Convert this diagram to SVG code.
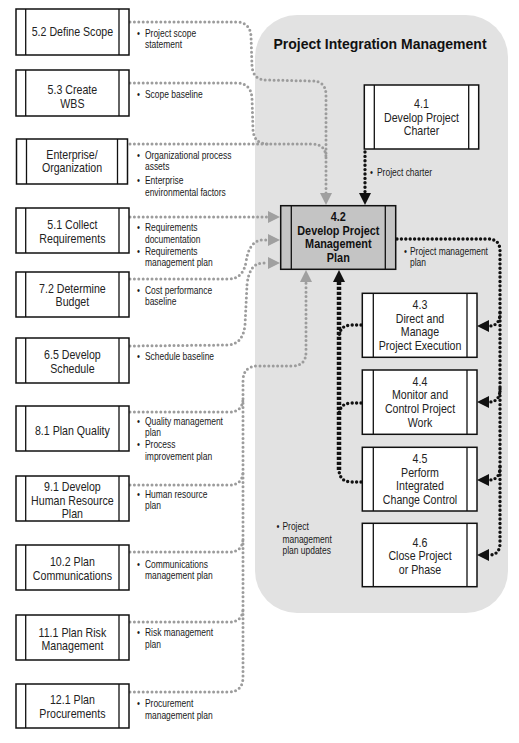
<svg xmlns="http://www.w3.org/2000/svg" width="519" height="743" viewBox="0 0 519 743">
<defs>
<style>
.box{fill:#fff;stroke:#111;stroke-width:1.5}
.in{stroke:#111;stroke-width:1.3}
.nt{font-family:"Liberation Sans",Arial,sans-serif;font-size:12.5px;fill:#222;text-anchor:middle}
.bt{font-family:"Liberation Sans",Arial,sans-serif;font-size:12.5px;font-weight:bold;fill:#111;text-anchor:middle}
.lb{font-family:"Liberation Sans",Arial,sans-serif;font-size:10.2px;fill:#1a1a1a}
.g{fill:none;stroke:#9c9c9c;stroke-width:3;stroke-dasharray:0 4.4;stroke-linecap:round}
.k{fill:none;stroke:#111;stroke-width:3.4;stroke-dasharray:0 4.4;stroke-linecap:round}
.kh{fill:none;stroke:#111;stroke-width:4.5;stroke-dasharray:3.2 1.8}
</style>
<marker id="ag" viewBox="0 0 12 12" markerWidth="12" markerHeight="12" markerUnits="userSpaceOnUse" refX="0" refY="6" orient="auto"><path d="M0,0 L12,6 L0,12 z" fill="#a0a0a0"/></marker>
<marker id="ak" viewBox="0 0 12 12" markerWidth="12" markerHeight="12" markerUnits="userSpaceOnUse" refX="0" refY="6" orient="auto"><path d="M0,0 L12,6 L0,12 z" fill="#111"/></marker>
</defs>
<rect width="519" height="743" fill="#fff"/>
<g id="panel">
<rect x="255" y="15" width="253" height="598" rx="42" ry="42" fill="#e2e2e2"/>
<text x="380" y="49" font-family="Liberation Sans,Arial,sans-serif" font-size="14px" font-weight="bold" fill="#111" text-anchor="middle">Project Integration Management</text>
</g>
<g id="connectors">
<path class="g" d="M130,22 L236,22 Q250,22 251,36 L252,66 Q253,80 267,80 L312,81 Q326,81 326,95 L326,193" marker-end="url(#ag)"/>
<path class="g" d="M130,83 L236,83 Q251,83 252,98 L253,130 Q254,144 268,144"/>
<path class="g" d="M130,144 L312,144 Q326,144 326,158"/>
<path class="g" d="M130,217 L268,217" marker-end="url(#ag)"/>
<path class="g" d="M130,279 L228,279 Q243,279 246,262 Q249,241 262,240 L268,240" marker-end="url(#ag)"/>
<path class="g" d="M130,346 L228,345 Q243,344 245,325 L247,285 Q249,264 262,263 L268,263" marker-end="url(#ag)"/>
<path class="g" d="M130,692 L228,692 Q243,692 243,677 L243,381 Q243,366 258,366 L292,366 Q306,366 306,352 L306,282" marker-end="url(#ag)"/>
<path class="g" d="M130,412 L229,412 Q243,412 243,398"/>
<path class="g" d="M130,485 L229,485 Q243,485 243,471"/>
<path class="g" d="M130,552 L229,552 Q243,552 243,538"/>
<path class="g" d="M130,622 L229,622 Q243,622 243,608"/>
<path class="k" d="M365,152 L365,193" marker-end="url(#ak)"/>
<path class="k" d="M397,239 L488,239 Q500,239 500,251 L500,543 Q500,555 489,555" marker-end="url(#ak)"/>
<path class="k" d="M500,313 Q500,326 489,326" marker-end="url(#ak)"/>
<path class="k" d="M500,389 Q500,402 489,402" marker-end="url(#ak)"/>
<path class="k" d="M500,467 Q500,480 489,480" marker-end="url(#ak)"/>
<path class="k" d="M361,482 L352,482 Q339,482 339,469"/>
<path class="k" d="M361,325 L352,325 Q339,325 339,338"/>
<path class="k" d="M361,403 L352,403 Q339,403 339,416"/>
<path class="kh" d="M339,470 L339,282" marker-end="url(#ak)"/>
</g>
<g id="labels">
<g transform="translate(137 0) scale(.83 1)">
<text class="lb"><tspan x="0" y="36.7">•</tspan><tspan x="9.6" y="36.7">Project scope</tspan><tspan x="9.6" y="48.5">statement</tspan></text>
<text class="lb"><tspan x="0" y="97.7">•</tspan><tspan x="9.6" y="97.7">Scope baseline</tspan></text>
<text class="lb"><tspan x="0" y="158.7">•</tspan><tspan x="9.6" y="158.7">Organizational process</tspan><tspan x="9.6" y="170">assets</tspan><tspan x="0" y="183.7">•</tspan><tspan x="9.6" y="183.7">Enterprise</tspan><tspan x="9.6" y="195.7">environmental factors</tspan></text>
<text class="lb"><tspan x="0" y="231.4">•</tspan><tspan x="9.6" y="231.4">Requirements</tspan><tspan x="9.6" y="242.9">documentation</tspan><tspan x="0" y="255.4">•</tspan><tspan x="9.6" y="255.4">Requirements</tspan><tspan x="9.6" y="266.5">management plan</tspan></text>
<text class="lb"><tspan x="0" y="293.7">•</tspan><tspan x="9.6" y="293.7">Cost performance</tspan><tspan x="9.6" y="305">baseline</tspan></text>
<text class="lb"><tspan x="0" y="360.4">•</tspan><tspan x="9.6" y="360.4">Schedule baseline</tspan></text>
<text class="lb"><tspan x="0" y="425.4">•</tspan><tspan x="9.6" y="425.4">Quality management</tspan><tspan x="9.6" y="436.5">plan</tspan><tspan x="0" y="447.9">•</tspan><tspan x="9.6" y="447.9">Process</tspan><tspan x="9.6" y="459.7">improvement plan</tspan></text>
<text class="lb"><tspan x="0" y="497.7">•</tspan><tspan x="9.6" y="497.7">Human resource</tspan><tspan x="9.6" y="509.4">plan</tspan></text>
<text class="lb"><tspan x="0" y="567.7">•</tspan><tspan x="9.6" y="567.7">Communications</tspan><tspan x="9.6" y="578.9">management plan</tspan></text>
<text class="lb"><tspan x="0" y="636.5">•</tspan><tspan x="9.6" y="636.5">Risk management</tspan><tspan x="9.6" y="648">plan</tspan></text>
<text class="lb"><tspan x="0" y="707.5">•</tspan><tspan x="9.6" y="707.5">Procurement</tspan><tspan x="9.6" y="718.8">management plan</tspan></text>
</g>
<g transform="translate(370 0) scale(.83 1)"><text class="lb"><tspan x="0" y="176.4">•</tspan><tspan x="8.4" y="176.4">Project charter</tspan></text></g>
<g transform="translate(404 0) scale(.83 1)"><text class="lb"><tspan x="0" y="254.7">•</tspan><tspan x="7.2" y="254.7">Project management</tspan><tspan x="7.2" y="265.8">plan</tspan></text></g>
<g transform="translate(276.5 0) scale(.83 1)"><text class="lb"><tspan x="0" y="530.4">•</tspan><tspan x="7.2" y="530.4">Project</tspan><tspan x="7.2" y="542.7">management</tspan><tspan x="7.2" y="554.4">plan updates</tspan></text></g>
</g>
<g id="n52"><rect class="box" x="16" y="9" width="113" height="46"/><path class="in" d="M25.7,9V55M119,9V55"/><g transform="translate(72.4 0) scale(.85 1)"><text class="nt" x="0" y="36.5">5.2 Define Scope</text></g></g>
<g id="n53"><rect class="box" x="16" y="70" width="113" height="46"/><path class="in" d="M25.7,70V116M119,70V116"/><g transform="translate(72.4 0) scale(.85 1)"><text class="nt" x="0" y="94.5">5.3 Create</text><text class="nt" x="0" y="108">WBS</text></g></g>
<g id="nent"><rect class="box" x="16.5" y="139" width="111" height="45"/><path class="in" d="M26.5,139V184M117.5,139V184"/><g transform="translate(72 0) scale(.85 1)"><text class="nt" x="0" y="159.5">Enterprise/</text><text class="nt" x="0" y="172.5">Organization</text></g></g>
<g id="n51"><rect class="box" x="16" y="208" width="113" height="45"/><path class="in" d="M25.7,208V253M119,208V253"/><g transform="translate(72.4 0) scale(.85 1)"><text class="nt" x="0" y="229.5">5.1 Collect</text><text class="nt" x="0" y="243.5">Requirements</text></g></g>
<g id="n72"><rect class="box" x="16" y="272" width="113" height="45"/><path class="in" d="M25.7,272V317M119,272V317"/><g transform="translate(72.4 0) scale(.85 1)"><text class="nt" x="0" y="293.5">7.2 Determine</text><text class="nt" x="0" y="306.5">Budget</text></g></g>
<g id="n65"><rect class="box" x="16" y="338" width="113" height="45"/><path class="in" d="M25.7,338V383M119,338V383"/><g transform="translate(72.4 0) scale(.85 1)"><text class="nt" x="0" y="359.5">6.5 Develop</text><text class="nt" x="0" y="373.5">Schedule</text></g></g>
<g id="n81"><rect class="box" x="16" y="406" width="113" height="45"/><path class="in" d="M25.7,406V451M119,406V451"/><g transform="translate(72.4 0) scale(.85 1)"><text class="nt" x="0" y="435.5">8.1 Plan Quality</text></g></g>
<g id="n91"><rect class="box" x="16" y="476" width="113" height="45"/><path class="in" d="M25.7,476V521M119,476V521"/><g transform="translate(72.4 0) scale(.85 1)"><text class="nt" x="0" y="491.5">9.1 Develop</text><text class="nt" x="0" y="504.8">Human Resource</text><text class="nt" x="0" y="518">Plan</text></g></g>
<g id="n102"><rect class="box" x="16" y="545" width="113" height="45"/><path class="in" d="M25.7,545V590M119,545V590"/><g transform="translate(72.4 0) scale(.85 1)"><text class="nt" x="0" y="566">10.2 Plan</text><text class="nt" x="0" y="580">Communications</text></g></g>
<g id="n111"><rect class="box" x="16" y="615" width="113" height="45"/><path class="in" d="M25.7,615V660M119,615V660"/><g transform="translate(72.4 0) scale(.85 1)"><text class="nt" x="0" y="637">11.1 Plan Risk</text><text class="nt" x="0" y="650.5">Management</text></g></g>
<g id="n121"><rect class="box" x="16" y="684" width="113" height="44"/><path class="in" d="M25.7,684V728M119,684V728"/><g transform="translate(72.4 0) scale(.85 1)"><text class="nt" x="0" y="704.5">12.1 Plan</text><text class="nt" x="0" y="718.5">Procurements</text></g></g>
<g id="n41"><rect class="box" x="364.3" y="85" width="114.4" height="64"/><path class="in" d="M374.3,85V149M468.7,85V149"/><g transform="translate(421.5 0) scale(.85 1)"><text class="nt" x="0" y="108.5">4.1</text><text class="nt" x="0" y="122">Develop Project</text><text class="nt" x="0" y="135.5">Charter</text></g></g>
<g id="n42"><rect x="280.7" y="205.7" width="115" height="63.6" fill="#c4c4c4" stroke="#111" stroke-width="1.5"/><path class="in" d="M291.3,205.7V269.3M385.3,205.7V269.3"/><g transform="translate(338.3 0) scale(.87 1)"><text class="bt" x="0" y="221">4.2</text><text class="bt" x="0" y="235">Develop Project</text><text class="bt" x="0" y="248.5">Management</text><text class="bt" x="0" y="262">Plan</text></g></g>
<g id="n43"><rect class="box" x="362.3" y="293.3" width="114.7" height="64"/><path class="in" d="M373.3,293.3V357.3M467,293.3V357.3"/><g transform="translate(420 0) scale(.85 1)"><text class="nt" x="0" y="309.5">4.3</text><text class="nt" x="0" y="323">Direct and</text><text class="nt" x="0" y="336.5">Manage</text><text class="nt" x="0" y="350">Project Execution</text></g></g>
<g id="n44"><rect class="box" x="362.3" y="370" width="114.7" height="64.3"/><path class="in" d="M373.3,370V434.3M467,370V434.3"/><g transform="translate(420 0) scale(.85 1)"><text class="nt" x="0" y="386">4.4</text><text class="nt" x="0" y="399.5">Monitor and</text><text class="nt" x="0" y="413.5">Control Project</text><text class="nt" x="0" y="427">Work</text></g></g>
<g id="n45"><rect class="box" x="362.3" y="447.3" width="114.7" height="63.7"/><path class="in" d="M373.3,447.3V511M467,447.3V511"/><g transform="translate(420 0) scale(.85 1)"><text class="nt" x="0" y="463.5">4.5</text><text class="nt" x="0" y="477">Perform</text><text class="nt" x="0" y="490.5">Integrated</text><text class="nt" x="0" y="503.8">Change Control</text></g></g>
<g id="n46"><rect class="box" x="362.3" y="523.3" width="114.7" height="63.4"/><path class="in" d="M373.3,523.3V586.7M467,523.3V586.7"/><g transform="translate(420 0) scale(.85 1)"><text class="nt" x="0" y="547.5">4.6</text><text class="nt" x="0" y="560.5">Close Project</text><text class="nt" x="0" y="574">or Phase</text></g></g>
</svg>
